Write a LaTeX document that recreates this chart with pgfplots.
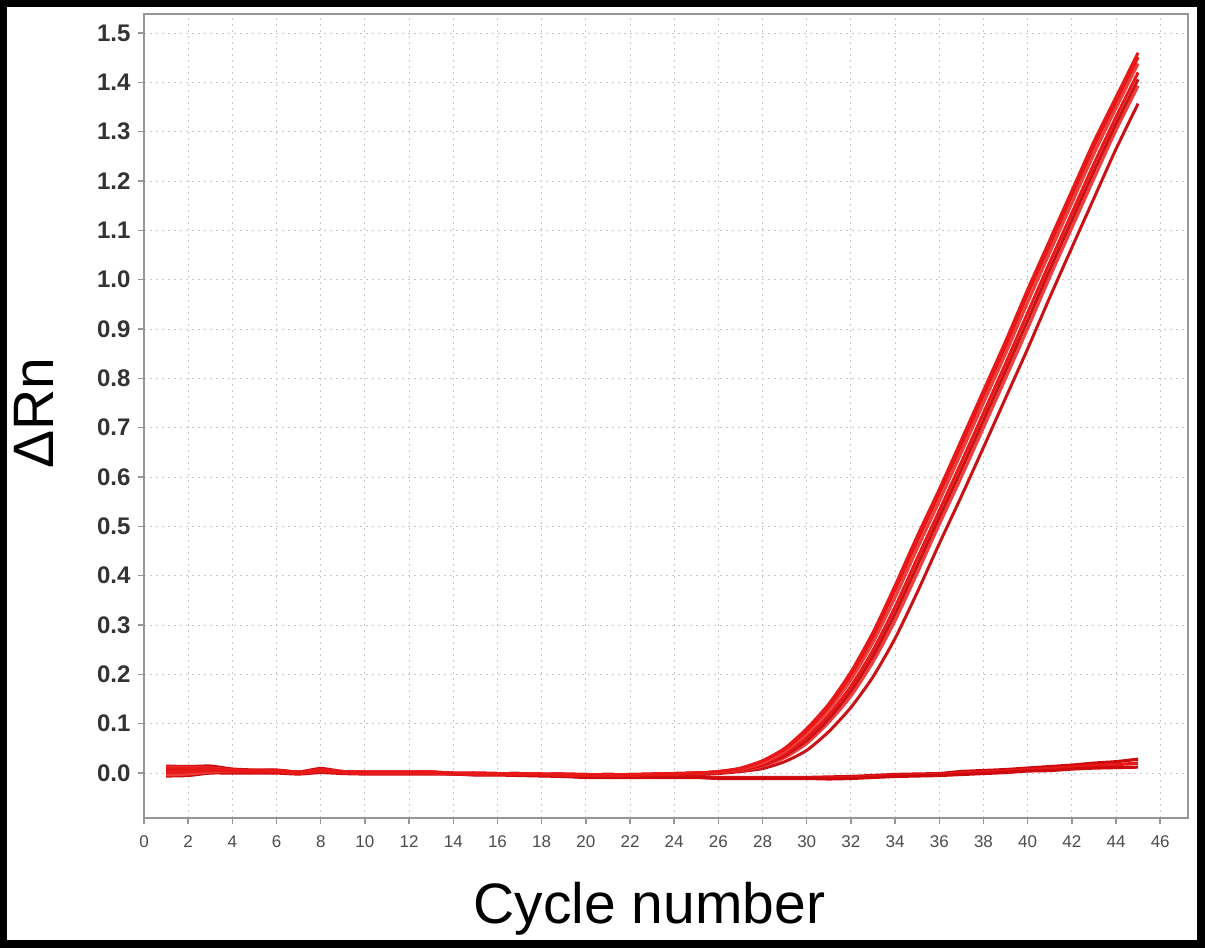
\documentclass[border=0pt]{standalone}
\usepackage{pgfplots}
\pgfplotsset{compat=1.18}
\usepackage{pgfplotstable}
\usepackage{fontspec}
\setmainfont{Liberation Sans}

\definecolor{ampred}{RGB}{232,24,24}
\definecolor{ampdark}{RGB}{200,18,22}
\definecolor{amplight}{RGB}{240,62,62}
\definecolor{negred}{RGB}{205,10,14}
\definecolor{boxgray}{RGB}{150,150,150}
\definecolor{gridgray}{RGB}{200,200,200}

% cycle, amplified wells A-G, negative wells N1-N3 (delta Rn)
\pgfplotstableread{
c  A     B     C     D     E     F     G     N1    N2    N3
1  .010  .000  .012  .002  .008  -.004 .001  .014  .004  -.006
2  .010  .002  .011  .003  .009  -.002 .003  .013  .004  -.005
3  .009  .005  .010  .005  .009  .002  .005  .014  .007  .000
4  .006  .004  .006  .004  .006  .003  .004  .008  .004  .000
5  .005  .003  .005  .003  .005  .003  .003  .006  .003  .000
6  .005  .003  .005  .003  .005  .003  .003  .006  .003  .000
7  .002  .000  .002  .000  .002  .000  .000  .002  .000  -.002
8  .006  .004  .006  .004  .006  .004  .004  .009  .005  .001
9  .003  .001  .003  .001  .003  .001  .001  .003  .001  -.001
10 .002  .000  .002  .000  .002  .000  .000  .002  .000  -.002
11 .002  .000  .002  .000  .002  .000  .000  .002  .000  -.002
12 .002  .000  .002  .000  .002  .000  .000  .002  .000  -.002
13 .002  .000  .002  .000  .002  .000  .000  .002  .000  -.002
14 .000  -.001 .000  -.001 .000  -.001 -.001 -.002 -.002 -.002
15 .000  -.002 .000  -.002 .000  -.002 -.002 -.002 -.003 -.004
16 -.001 -.002 -.001 -.002 -.001 -.002 -.002 -.002 -.003 -.004
17 -.001 -.003 -.001 -.003 -.001 -.003 -.003 -.003 -.004 -.005
18 -.002 -.003 -.002 -.003 -.002 -.003 -.003 -.004 -.005 -.006
19 -.002 -.004 -.002 -.004 -.002 -.004 -.004 -.005 -.006 -.007
20 -.003 -.004 -.003 -.004 -.003 -.004 -.004 -.007 -.008 -.009
21 -.003 -.004 -.003 -.004 -.003 -.004 -.004 -.007 -.008 -.009
22 -.003 -.004 -.003 -.004 -.003 -.004 -.004 -.007 -.008 -.009
23 -.002 -.003 -.002 -.003 -.002 -.003 -.003 -.007 -.008 -.009
24 -.001 -.002 -.001 -.002 -.001 -.002 -.002 -.007 -.008 -.009
25 .000  .000  .000  .000  .000  .000  -.002 -.007 -.008 -.009
26 .003  .003  .002  .002  .001  .001  -.001 -.009 -.010 -.011
27 .010  .009  .008  .007  .006  .005  .003  -.009 -.010 -.011
28 .025  .024  .021  .018  .016  .014  .009  -.009 -.010 -.011
29 .050  .048  .044  .039  .035  .031  .023  -.009 -.010 -.011
30 .090  .086  .080  .072  .066  .060  .046  -.009 -.010 -.011
31 .140  .135  .128  .118  .110  .103  .084  -.008 -.010 -.012
32 .205  .199  .189  .176  .166  .156  .133  -.007 -.009 -.011
33 .285  .277  .265  .249  .237  .225  .195  -.005 -.007 -.009
34 .380  .371  .356  .337  .323  .309  .273  -.003 -.005 -.007
35 .480  .470  .455  .435  .420  .405  .366  -.002 -.004 -.006
36 .575  .566  .551  .532  .518  .504  .465  -.001 -.003 -.005
37 .675  .665  .650  .630  .615  .600  .561  .003  .000  -.003
38 .775  .765  .750  .730  .715  .700  .660  .005  .002  -.001
39 .875  .865  .850  .830  .815  .800  .760  .007  .004  .001
40 .980  .970  .954  .933  .917  .901  .860  .010  .007  .004
41 1.080 1.070 1.055 1.035 1.020 1.005 .964  .013  .009  .005
42 1.180 1.170 1.155 1.135 1.120 1.105 1.065 .016  .012  .008
43 1.280 1.270 1.255 1.235 1.220 1.205 1.165 .020  .015  .010
44 1.370 1.361 1.348 1.330 1.316 1.303 1.265 .023  .017  .011
45 1.460 1.451 1.438 1.420 1.406 1.393 1.357 .028  .020  .012
}\runs

\begin{document}
\begin{tikzpicture}
% black frame of the figure
\fill[black] (0,0) rectangle (1205bp,948bp);
\fill[white] (7bp,8bp) rectangle (1197bp,941bp);

\begin{axis}[
    at={(144bp,130bp)}, anchor=south west,
    scale only axis,
    width=1044bp, height=804bp,
    xmin=0, xmax=47.26,
    ymin=-0.0912, ymax=1.5386,
    xtick={0,2,4,6,8,10,12,14,16,18,20,22,24,26,28,30,32,34,36,38,40,42,44,46},
    ytick={0,0.1,0.2,0.3,0.4,0.5,0.6,0.7,0.8,0.9,1.0,1.1,1.2,1.3,1.4,1.5},
    tick pos=left,
    tick align=outside,
    major tick length=6bp,
    every tick/.style={boxgray, line width=1.5bp},
    axis line style={boxgray, line width=2bp},
    grid=major,
    major grid style={gridgray, line width=1bp, dash pattern=on 2bp off 4bp},
    /pgf/number format/assume math mode=true,
    yticklabel style={font=\fontsize{24bp}{26bp}\selectfont\bfseries, text=black!80,
        xshift=-4bp,
        /pgf/number format/.cd, fixed, fixed zerofill, precision=1},
    xticklabel style={font=\fontsize{17bp}{19bp}\selectfont, text=black!70, yshift=-8bp},
    every axis x label/.style={at={(axis description cs:0.484,-0.1306)}, anchor=base,
        font=\fontsize{57bp}{60bp}\selectfont},
    every axis y label/.style={at={(axis description cs:-0.087,0.504)}, anchor=base,
        rotate=90, font=\fontsize{57bp}{60bp}\selectfont},
    xlabel={Cycle number},
    ylabel={ΔRn},
    clip=true,
]
% negative wells
\addplot[negred, line width=3.2bp, smooth, tension=0.4, no markers] table[x=c, y=N1] {\runs};
\addplot[ampred, line width=3.2bp, smooth, tension=0.4, no markers] table[x=c, y=N2] {\runs};
\addplot[negred, line width=3.2bp, smooth, tension=0.4, no markers] table[x=c, y=N3] {\runs};
% amplified wells
\addplot[ampdark, line width=3bp, smooth, tension=0.4, no markers] table[x=c, y=G] {\runs};
\addplot[amplight, line width=3bp, smooth, tension=0.4, no markers] table[x=c, y=F] {\runs};
\addplot[ampdark, line width=3bp, smooth, tension=0.4, no markers] table[x=c, y=E] {\runs};
\addplot[ampred, line width=3bp, smooth, tension=0.4, no markers] table[x=c, y=D] {\runs};
\addplot[amplight, line width=3bp, smooth, tension=0.4, no markers] table[x=c, y=C] {\runs};
\addplot[ampred, line width=3bp, smooth, tension=0.4, no markers] table[x=c, y=B] {\runs};
\addplot[ampred, line width=3bp, smooth, tension=0.4, no markers] table[x=c, y=A] {\runs};
\end{axis}
\end{tikzpicture}
\end{document}
